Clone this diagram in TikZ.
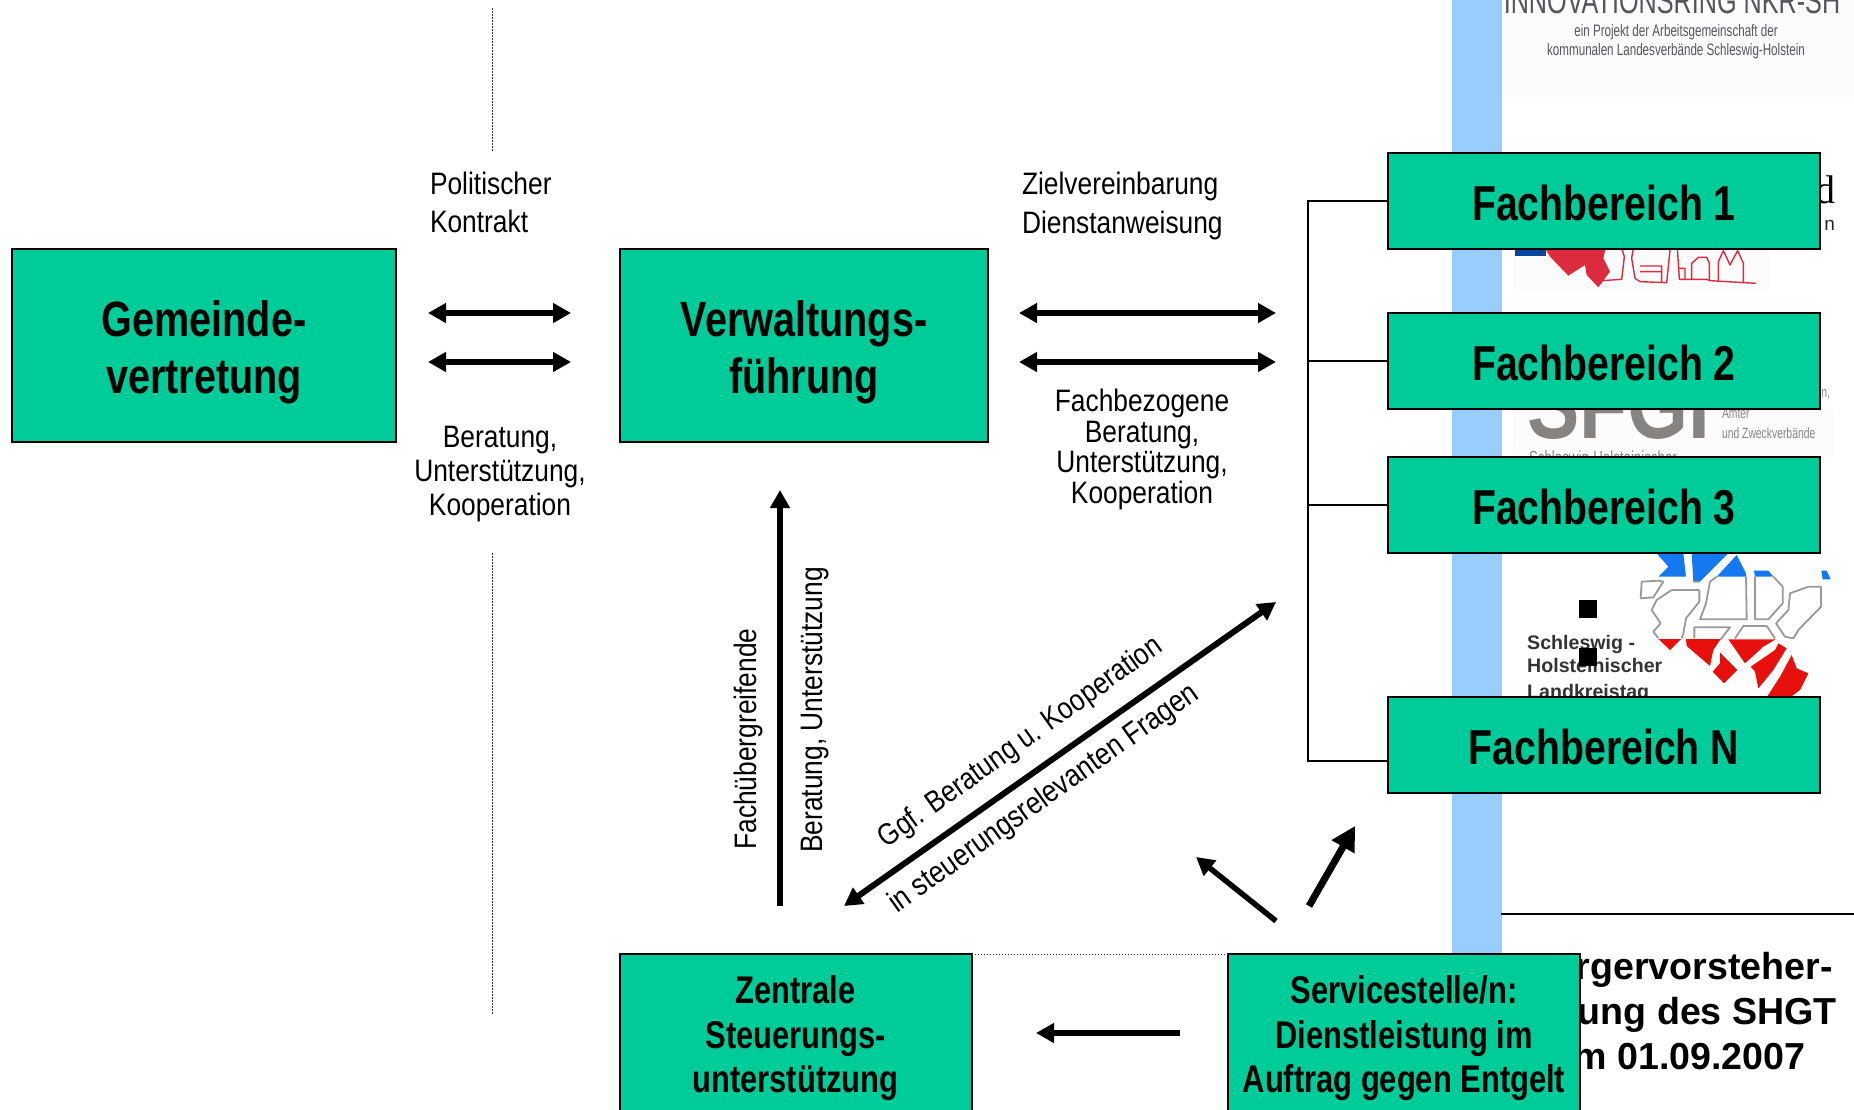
\documentclass[tikz,border=0pt]{standalone}
\usepackage{fontspec}
\setmainfont[FakeStretch=0.85,BoldFeatures={FakeStretch=0.8}]{Liberation Sans}
\newfontfamily\wideface{Liberation Sans}
\newfontfamily\narrowface[FakeStretch=0.7]{Liberation Sans}
\newfontfamily\serifface{Liberation Serif}
\usetikzlibrary{arrows.meta}
\definecolor{boxgreen}{HTML}{00CC99}
\definecolor{bandblue}{HTML}{99CCFF}
\definecolor{logogrey}{HTML}{868383}
\definecolor{textgrey}{HTML}{555558}
\definecolor{cityred}{HTML}{DC2B3C}
\definecolor{cityblue}{HTML}{00479D}
\definecolor{mapblue}{HTML}{1478F0}
\definecolor{mapred}{HTML}{E8100C}
\definecolor{mapline}{HTML}{999999}
\definecolor{palebg}{HTML}{FCFCFD}
\newcommand{\fs}[2]{\fontsize{#1}{#2}\selectfont}
\tikzset{
  x=1pt,y=-1pt,
  greenbox/.style={draw=black,line width=2pt,fill=boxgreen,inner sep=0pt,outer sep=0pt,align=center,anchor=center,font=\bfseries},
  bigbox/.style={greenbox,font=\bfseries\fs{49.5}{57},text height=96pt,text depth=0pt,minimum height=193pt},
  fbbox/.style={greenbox,font=\bfseries\fs{49}{52},minimum width=432pt,minimum height=96pt,text height=38pt,text depth=0pt},
  lowbox/.style={greenbox,font=\bfseries\fs{38.6}{44.5},minimum height=161pt,minimum width=352pt,text height=116pt,text depth=0pt},
  lbl/.style={inner sep=0pt,outer sep=0pt,font=\fs{31}{38}},
  thickarrow/.style={line width=5.5pt,-{Triangle[length=18pt,width=19pt]}},
  bigarrow/.style={line width=7pt,-{Triangle[length=24pt,width=25pt]}},
  bothways/.style={line width=6pt,{Triangle[length=18pt,width=19pt]}-{Triangle[length=18pt,width=19pt]}},
  treeline/.style={line width=1.6pt},
  dotline/.style={line width=1pt,dash pattern=on 1.5pt off 1.5pt,black!80},
  logotext/.style={inner sep=0pt,outer sep=0pt,text=textgrey},
  mapzone/.style={draw=mapline,line width=1.8pt,line join=round},
}
\begin{document}
\begin{tikzpicture}
\path[clip] (0,0) rectangle (1854,1109);
\fill[white] (0,0) rectangle (1854,1109);
% background slide
\fill[palebg] (1503,0) rectangle (1854,97);
\fill[palebg] (1513,249) rectangle (1770,290);
\fill[palebg] (1513,409) rectangle (1834,457);
\fill[bandblue] (1452,0) rectangle (1502,954);
\draw[line width=1.6pt] (1501,914) -- (1854,914);
\node[logotext,anchor=base,font=\narrowface\fs{36}{36}] (t0) at (1672,13) {INNOVATIONSRING NKR-SH};
\node[logotext,anchor=base,font=\narrowface\fs{16.6}{20}] (t1a) at (1676,36) {ein Projekt der Arbeitsgemeinschaft der};
\node[logotext,anchor=base,font=\narrowface\fs{16.6}{20}] (t1b) at (1676,55) {kommunalen Landesverbände Schleswig-Holstein};
\node[inner sep=0pt,anchor=base east,font=\serifface\fs{40}{40}] (t1d) at (1836,203) {d};
\node[inner sep=0pt,anchor=base east,font=\wideface\fs{19}{19},text=black!85] (t1n) at (1835,230) {n};
% city logo
\begin{scope}[shift={(1440,0)},scale=1/3]
\fill[cityblue] (225,745) rectangle (318,768);
\fill[cityred] (315,745) -- (330,770) -- (385,827) -- (435,795) -- (440,825) -- (475,862) -- (510,815) -- (490,775) -- (497,745) -- cycle;
\draw[cityred,line width=1.4pt,line join=round] (485,842) -- (545,838) -- (553,770) -- (545,745)
  (580,745) -- (575,775) -- (585,835) -- (600,845) -- (680,848) -- (690,750)
  (712,745) -- (718,838) -- (735,838) -- (735,805) -- (715,805)
  (600,798) -- (665,798) -- (665,845) (600,815) -- (665,815)
  (735,838) -- (800,838) -- (810,842) -- (948,850)
  (755,838) -- (755,790) -- (775,772) -- (800,772) -- (808,790) -- (808,838)
  (835,842) -- (835,785) -- (850,752) -- (870,795) -- (893,752) -- (910,790) -- (910,845);
\end{scope}
% SHGT logo
\node[inner sep=0pt,anchor=base west,text=logogrey,font=\bfseries\fs{98}{98}] (t2) at (1527,438) {SFGI};
\node[logotext,text=logogrey,anchor=base west,font=\narrowface\fs{14.8}{18}] (t2a) at (1722,418) {Ämter};
\node[logotext,text=logogrey,anchor=base west,font=\narrowface\fs{14.8}{18}] (t2b) at (1722,438) {und Zweckverbände};
\node[logotext,text=logogrey,anchor=base east,font=\narrowface\fs{14.8}{18}] (t2c) at (1830,397) {en,};
\node[logotext,text=logogrey,anchor=base west,font=\narrowface\fs{19}{20}] (t2d) at (1529,464) {Schleswig-Holsteinischer};
% map logo
\node[inner sep=0pt,anchor=base west,text=black!80,font=\wideface\bfseries\fs{19.6}{24}] (t3a) at (1527,649) {Schleswig -};
\node[inner sep=0pt,anchor=base west,text=black!80,font=\wideface\bfseries\fs{19.6}{24}] (t3b) at (1527,672) {Holsteinischer};
\node[inner sep=0pt,anchor=base west,text=black!80,font=\wideface\bfseries\fs{19.6}{24}] (t3c) at (1527,698) {Landkreistag};
\fill[black] (1579,600) rectangle (1597,618);
\fill[black] (1579,648) rectangle (1597,666);
\begin{scope}[shift={(1600,540)},scale=1/3]
\fill[mapblue] (170,40) -- (250,40) -- (258,110) -- (175,110) -- (205,80) -- cycle;
\fill[mapblue] (275,40) -- (385,40) -- (300,125) -- (280,125) -- cycle;
\fill[mapblue] (410,45) -- (438,100) -- (438,110) -- (350,110) -- cycle;
\fill[mapblue] (462,92) -- (505,92) -- (520,110) -- (465,110) -- cycle;
\fill[mapblue] (664,92) -- (680,92) -- (692,118) -- (668,118) -- cycle;
\draw[mapzone] (125,125) -- (175,122) -- (190,125) -- (160,172) -- (122,175) -- cycle;
\draw[mapzone] (215,150) -- (298,150) -- (298,185) -- (258,235) -- (250,280) -- (245,295) (175,295) -- (160,275) -- (182,250) -- (155,210) -- (170,180) -- (215,150);
\draw[mapzone] (280,125) -- (300,125) (350,110) -- (330,125) -- (318,190) -- (300,238) -- (440,238) -- (438,110);
\draw[mapzone] (465,110) -- (465,238) -- (505,238) -- (548,190) -- (548,140) -- (520,110);
\draw[mapzone] (570,160) -- (625,140) -- (663,140) -- (663,200) -- (595,270) -- (580,295) -- (555,290) -- (528,250) -- (565,210) -- cycle;
\draw[mapzone] (283,295) -- (283,262) -- (390,262) -- (362,298);
\draw[mapzone] (405,295) -- (430,258) -- (500,258) -- (525,295);
\fill[mapred] (175,297) -- (243,297) -- (210,330) -- cycle;
\fill[mapred] (258,297) -- (362,297) -- (340,330) -- (330,378) -- (260,318) -- cycle;
\fill[mapred] (360,338) -- (412,390) -- (372,430) -- (338,395) -- (360,370) -- cycle;
\fill[mapred] (385,298) -- (527,298) -- (490,320) -- (435,370) -- cycle;
\fill[mapred] (535,310) -- (560,325) -- (520,390) -- (475,445) -- (465,395) -- (452,380) -- (525,330) -- cycle;
\fill[mapred] (575,345) -- (590,385) -- (625,400) -- (600,450) -- (560,480) -- (495,480) -- (540,410) -- cycle;
\end{scope}
% bottom right title
\node[inner sep=0pt,anchor=base,align=center,font=\wideface\bfseries\fs{37.6}{45}] (title) at (1679,1069) {Bürgervorsteher-\\tagung des SHGT\\am 01.09.2007};
% dotted guides
\coordinate (da) at (492,8);
\coordinate (db) at (492,152);
\coordinate (dc) at (492,553);
\coordinate (dd) at (492,1015);
\draw[dotline] (da) -- (db);
\draw[dotline] (dc) -- (dd);
% tree
\coordinate (ttop) at (1308,201);
\coordinate (tmid2) at (1308,361);
\coordinate (tmid3) at (1308,505);
\coordinate (tbot) at (1308,761);
% boxes
\node[bigbox,minimum width=384pt] (gem) at (204,345.5) {Gemeinde-\\vertretung};
\node[bigbox,minimum width=368pt] (verw) at (804,345.5) {Verwaltungs-\\führung};
\node[fbbox] (fb1) at (1604,201) {Fachbereich 1};
\node[fbbox] (fb2) at (1604,361) {Fachbereich 2};
\node[fbbox] (fb3) at (1604,505) {Fachbereich 3};
\node[fbbox] (fbn) at (1604,745) {Fachbereich N};
\node[lowbox] (zen) at (795.5,1034.5) {Zentrale\\Steuerungs-\\unterstützung};
\node[lowbox] (srv) at (1404,1034.5) {Servicestelle/n:\\Dienstleistung im\\Auftrag gegen Entgelt};
\draw[dotline] (zen.north east) -- (srv.north west);
\draw[treeline] (fb1.west |- ttop) -- (ttop) -- (tbot) -- (fbn.west |- tbot);
\draw[treeline] (tmid2) -- (fb2.west |- tmid2);
\draw[treeline] (tmid3) -- (fb3.west |- tmid3);
% arrows
\coordinate (a1l) at (428,313);
\coordinate (a1r) at (571,313);
\coordinate (a2l) at (428,362);
\coordinate (a2r) at (571,362);
\coordinate (b1l) at (1019,313);
\coordinate (b1r) at (1276,313);
\coordinate (b2l) at (1019,362);
\coordinate (b2r) at (1276,362);
\coordinate (upS) at (780,906);
\coordinate (upE) at (780,490);
\coordinate (diaA) at (844,906);
\coordinate (diaB) at (1276,602);
\coordinate (s1S) at (1276,921);
\coordinate (s1E) at (1196,857);
\coordinate (s2S) at (1309,906);
\coordinate (s2E) at (1355,826);
\coordinate (s3S) at (1180,1033);
\coordinate (s3E) at (1036,1033);
\draw[bothways] (a1l) -- (a1r);
\draw[bothways] (a2l) -- (a2r);
\draw[bothways] (b1l) -- (b1r);
\draw[bothways] (b2l) -- (b2r);
\draw[thickarrow] (upS) -- (upE);
\draw[bothways] (diaA) -- (diaB);
\draw[thickarrow] (s1S) -- (s1E);
\draw[bigarrow] (s2S) -- (s2E);
\draw[thickarrow] (s3S) -- (s3E);
% labels
\node[lbl,anchor=west,align=left] (l1) at (430,202.5) {Politischer\\Kontrakt};
\node[lbl,anchor=west,align=left,font=\fs{31}{39}] (l2) at (1022,205.5) {Zielvereinbarung\\Dienstanweisung};
\node[lbl,align=center,font=\fs{31}{34}] (l3) at (500,474.5) {Beratung,\\Unterstützung,\\Kooperation};
\node[lbl,align=center,font=\fs{31}{30.5}] (l4) at (1142,449.5) {Fachbezogene\\Beratung,\\Unterstützung,\\Kooperation};
\node[lbl,rotate=90] (l5) at (748,739) {Fachübergreifende};
\node[lbl,rotate=90] (l6) at (815,710) {Beratung, Unterstützung};
\node[lbl,rotate=35.5,font=\fs{30.4}{38}] (l7) at (1021,743) {Ggf. Beratung u. Kooperation};
\node[lbl,rotate=35.5] (l8) at (1044,799) {in steuerungsrelevanten Fragen};
\end{tikzpicture}
\end{document}
